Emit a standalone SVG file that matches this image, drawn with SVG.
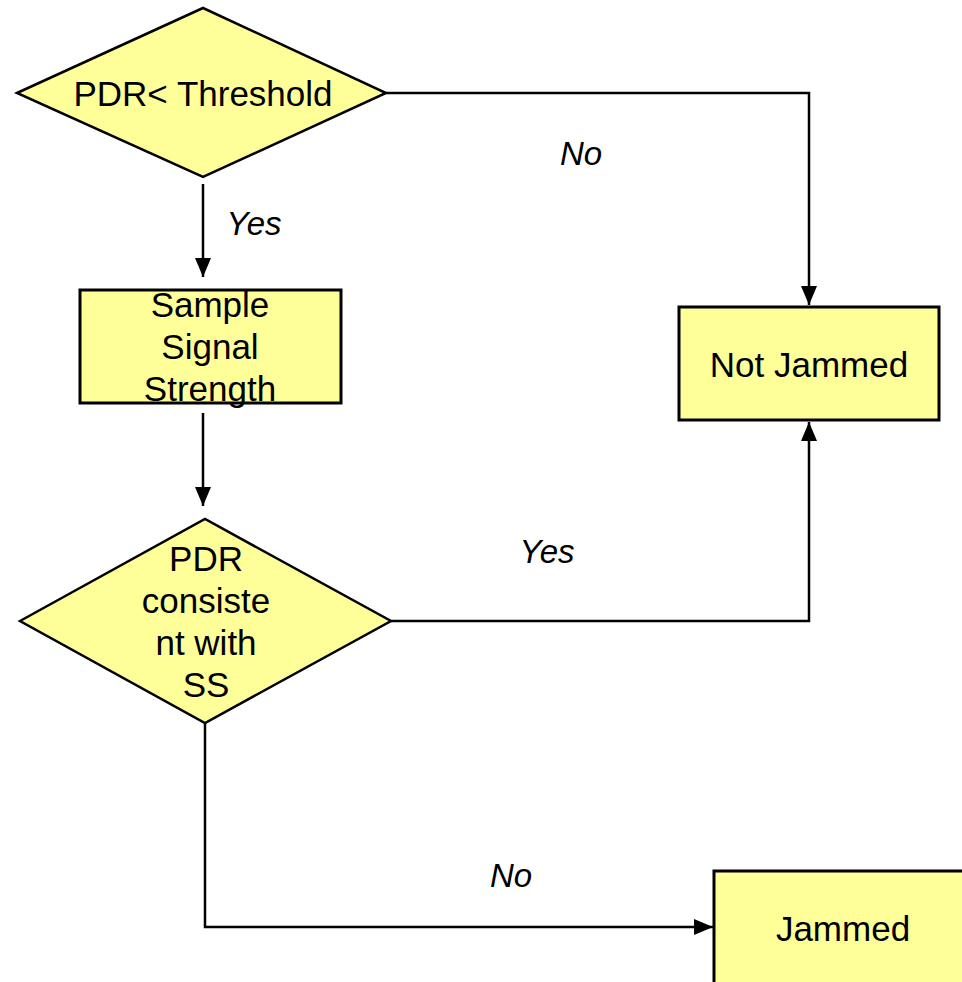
<svg xmlns="http://www.w3.org/2000/svg" width="962" height="982" viewBox="0 0 962 982">
<style>
.shape{fill:#FFFF99;stroke:#000;stroke-width:2.5}
.box{fill:#FFFF99;stroke:#000;stroke-width:3}
.t{font-family:"Liberation Sans",Arial,sans-serif;font-size:35px;fill:#000;text-anchor:middle}
.lbl{font-family:"Liberation Sans",Arial,sans-serif;font-size:33px;font-style:italic;fill:#000;text-anchor:middle}
.c{fill:none;stroke:#000;stroke-width:2.5}
</style>
<defs>
<marker id="ah" markerUnits="userSpaceOnUse" markerWidth="20" markerHeight="18" refX="19" refY="8" orient="auto">
<path d="M0,0 L19,8 L0,16 Z" fill="#000"/>
</marker>
</defs>
<rect width="962" height="982" fill="#fff"/>
<g id="connectors">
<path class="c" d="M386,93 H809 V305" marker-end="url(#ah)"/>
<path class="c" d="M203,184 V277" marker-end="url(#ah)"/>
<path class="c" d="M203,413 V506" marker-end="url(#ah)"/>
<path class="c" d="M391,621 H809 V422" marker-end="url(#ah)"/>
<path class="c" d="M205,723 V927 H713" marker-end="url(#ah)"/>
</g>
<g id="decision1">
<polygon class="shape" points="17,93 203,8 386,93 203,177"/>
<text class="t" x="203" y="106">PDR&lt; Threshold</text>
</g>
<g id="sample">
<rect class="box" x="80" y="290" width="261" height="113"/>
<text class="t" x="210" y="317">Sample</text>
<text class="t" x="210" y="359">Signal</text>
<text class="t" x="210" y="401">Strength</text>
</g>
<g id="notjammed">
<rect class="box" x="679" y="307" width="260" height="113"/>
<text class="t" x="809" y="377">Not Jammed</text>
</g>
<g id="decision2">
<polygon class="shape" points="20,621 205,519 391,621 205,723"/>
<text class="t" x="206" y="571">PDR</text>
<text class="t" x="206" y="613">consiste</text>
<text class="t" x="206" y="655">nt with</text>
<text class="t" x="206" y="697">SS</text>
</g>
<g id="jammed">
<rect class="box" x="714" y="871" width="262" height="115"/>
<text class="t" x="843" y="941">Jammed</text>
</g>
<g id="labels">
<text class="lbl" x="581" y="165">No</text>
<text class="lbl" x="254" y="235">Yes</text>
<text class="lbl" x="547" y="563">Yes</text>
<text class="lbl" x="511" y="887">No</text>
</g>
</svg>
